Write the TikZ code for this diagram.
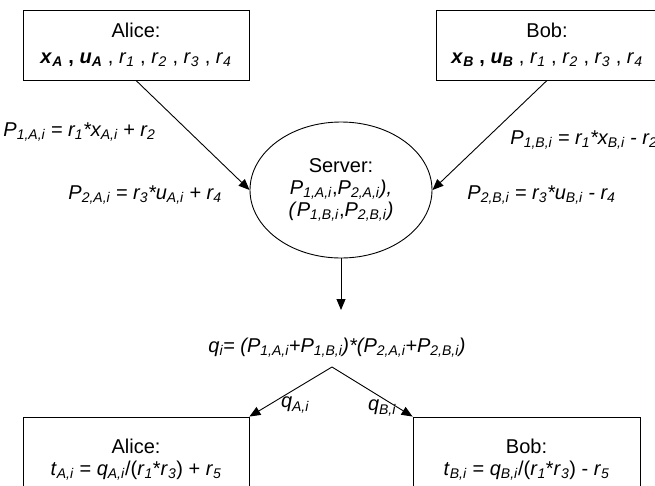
\documentclass[tikz,border=0pt]{standalone}
\usepackage{fontspec}
\setmainfont{Liberation Sans}
\usetikzlibrary{calc,arrows.meta}
\usetikzlibrary{shapes.geometric}

\newcommand{\vsub}[2]{\textit{#1}\textsubscript{\textit{#2}}}

\begin{document}
\begin{tikzpicture}[x=1pt, y=-1pt, font=\fontsize{20}{24}\selectfont, line width=0.9pt,
  party/.style={draw, minimum width=226pt, align=center},
  eqlabel/.style={inner sep=0pt, font=\fontsize{20}{24}\selectfont\itshape},
  flow/.style={-{Triangle[length=11pt,width=9pt]}}]
\useasboundingbox (0,0) rectangle (655,485);
\clip (0,0) rectangle (655,485);
\node[party, minimum height=70pt] (aliceIn) at (136,45) {Alice:\\[2pt] \textbf{\vsub{x}{A} , \vsub{u}{A}} , \vsub{r}{1} , \vsub{r}{2} , \vsub{r}{3} , \vsub{r}{4}};
\node[party, minimum height=70pt, minimum width=222pt] (bobIn) at (547,45) {Bob:\\[2pt] \textbf{\vsub{x}{B} , \vsub{u}{B}} , \vsub{r}{1} , \vsub{r}{2} , \vsub{r}{3} , \vsub{r}{4}};
\node[draw, ellipse, minimum width=182pt, minimum height=136pt, inner sep=0pt, align=center] (server) at (341,190) {Server:\\[-2pt] \vsub{P}{1,A,i},\vsub{P}{2,A,i}\textit{),}\\[-2pt] \textit{(}\vsub{P}{1,B,i},\vsub{P}{2,B,i}\textit{)}};
\draw[flow] (aliceIn.south) -- (server.west);
\draw[flow] (bobIn.south) -- (server.east);
\node[eqlabel, anchor=west] (p1a) at (3,132) {\vsub{P}{1,A,i} = \vsub{r}{1}*\vsub{x}{A,i} + \vsub{r}{2}};
\node[eqlabel, anchor=east] (p2a) at (222,195) {\vsub{P}{2,A,i} = \vsub{r}{3}*\vsub{u}{A,i} + \vsub{r}{4}};
\node[eqlabel, anchor=west] (p1b) at (510,140) {\vsub{P}{1,B,i} = \vsub{r}{1}*\vsub{x}{B,i} - \vsub{r}{2}};
\node[eqlabel, anchor=west] (p2b) at (467,195) {\vsub{P}{2,B,i} = \vsub{r}{3}*\vsub{u}{B,i} - \vsub{r}{4}};
\coordinate (qin) at (341,310);
\draw[flow] (server.south) -- (qin);
\node[eqlabel] (qsum) at (337,348) {\vsub{q}{i}= (\vsub{P}{1,A,i}+\vsub{P}{1,B,i})*(\vsub{P}{2,A,i}+\vsub{P}{2,B,i})};
\coordinate (apex) at (332,367);
\node[party, minimum height=86pt] (aliceOut) at (136,460) {Alice:\\[-2pt] \vsub{t}{A,i} = \vsub{q}{A,i}/(\vsub{r}{1}*\vsub{r}{3}) + \vsub{r}{5}};
\node[party, minimum height=86pt, minimum width=227pt] (bobOut) at (526.5,460) {Bob:\\[-2pt] \vsub{t}{B,i} = \vsub{q}{B,i}/(\vsub{r}{1}*\vsub{r}{3}) - \vsub{r}{5}};
\draw[flow] (apex) -- (aliceOut.north east);
\draw[flow] (apex) -- (bobOut.north west);
\node[eqlabel] (qa) at (295,405) {\vsub{q}{A,i}};
\node[eqlabel] (qb) at (382,408) {\vsub{q}{B,i}};
\end{tikzpicture}
\end{document}
